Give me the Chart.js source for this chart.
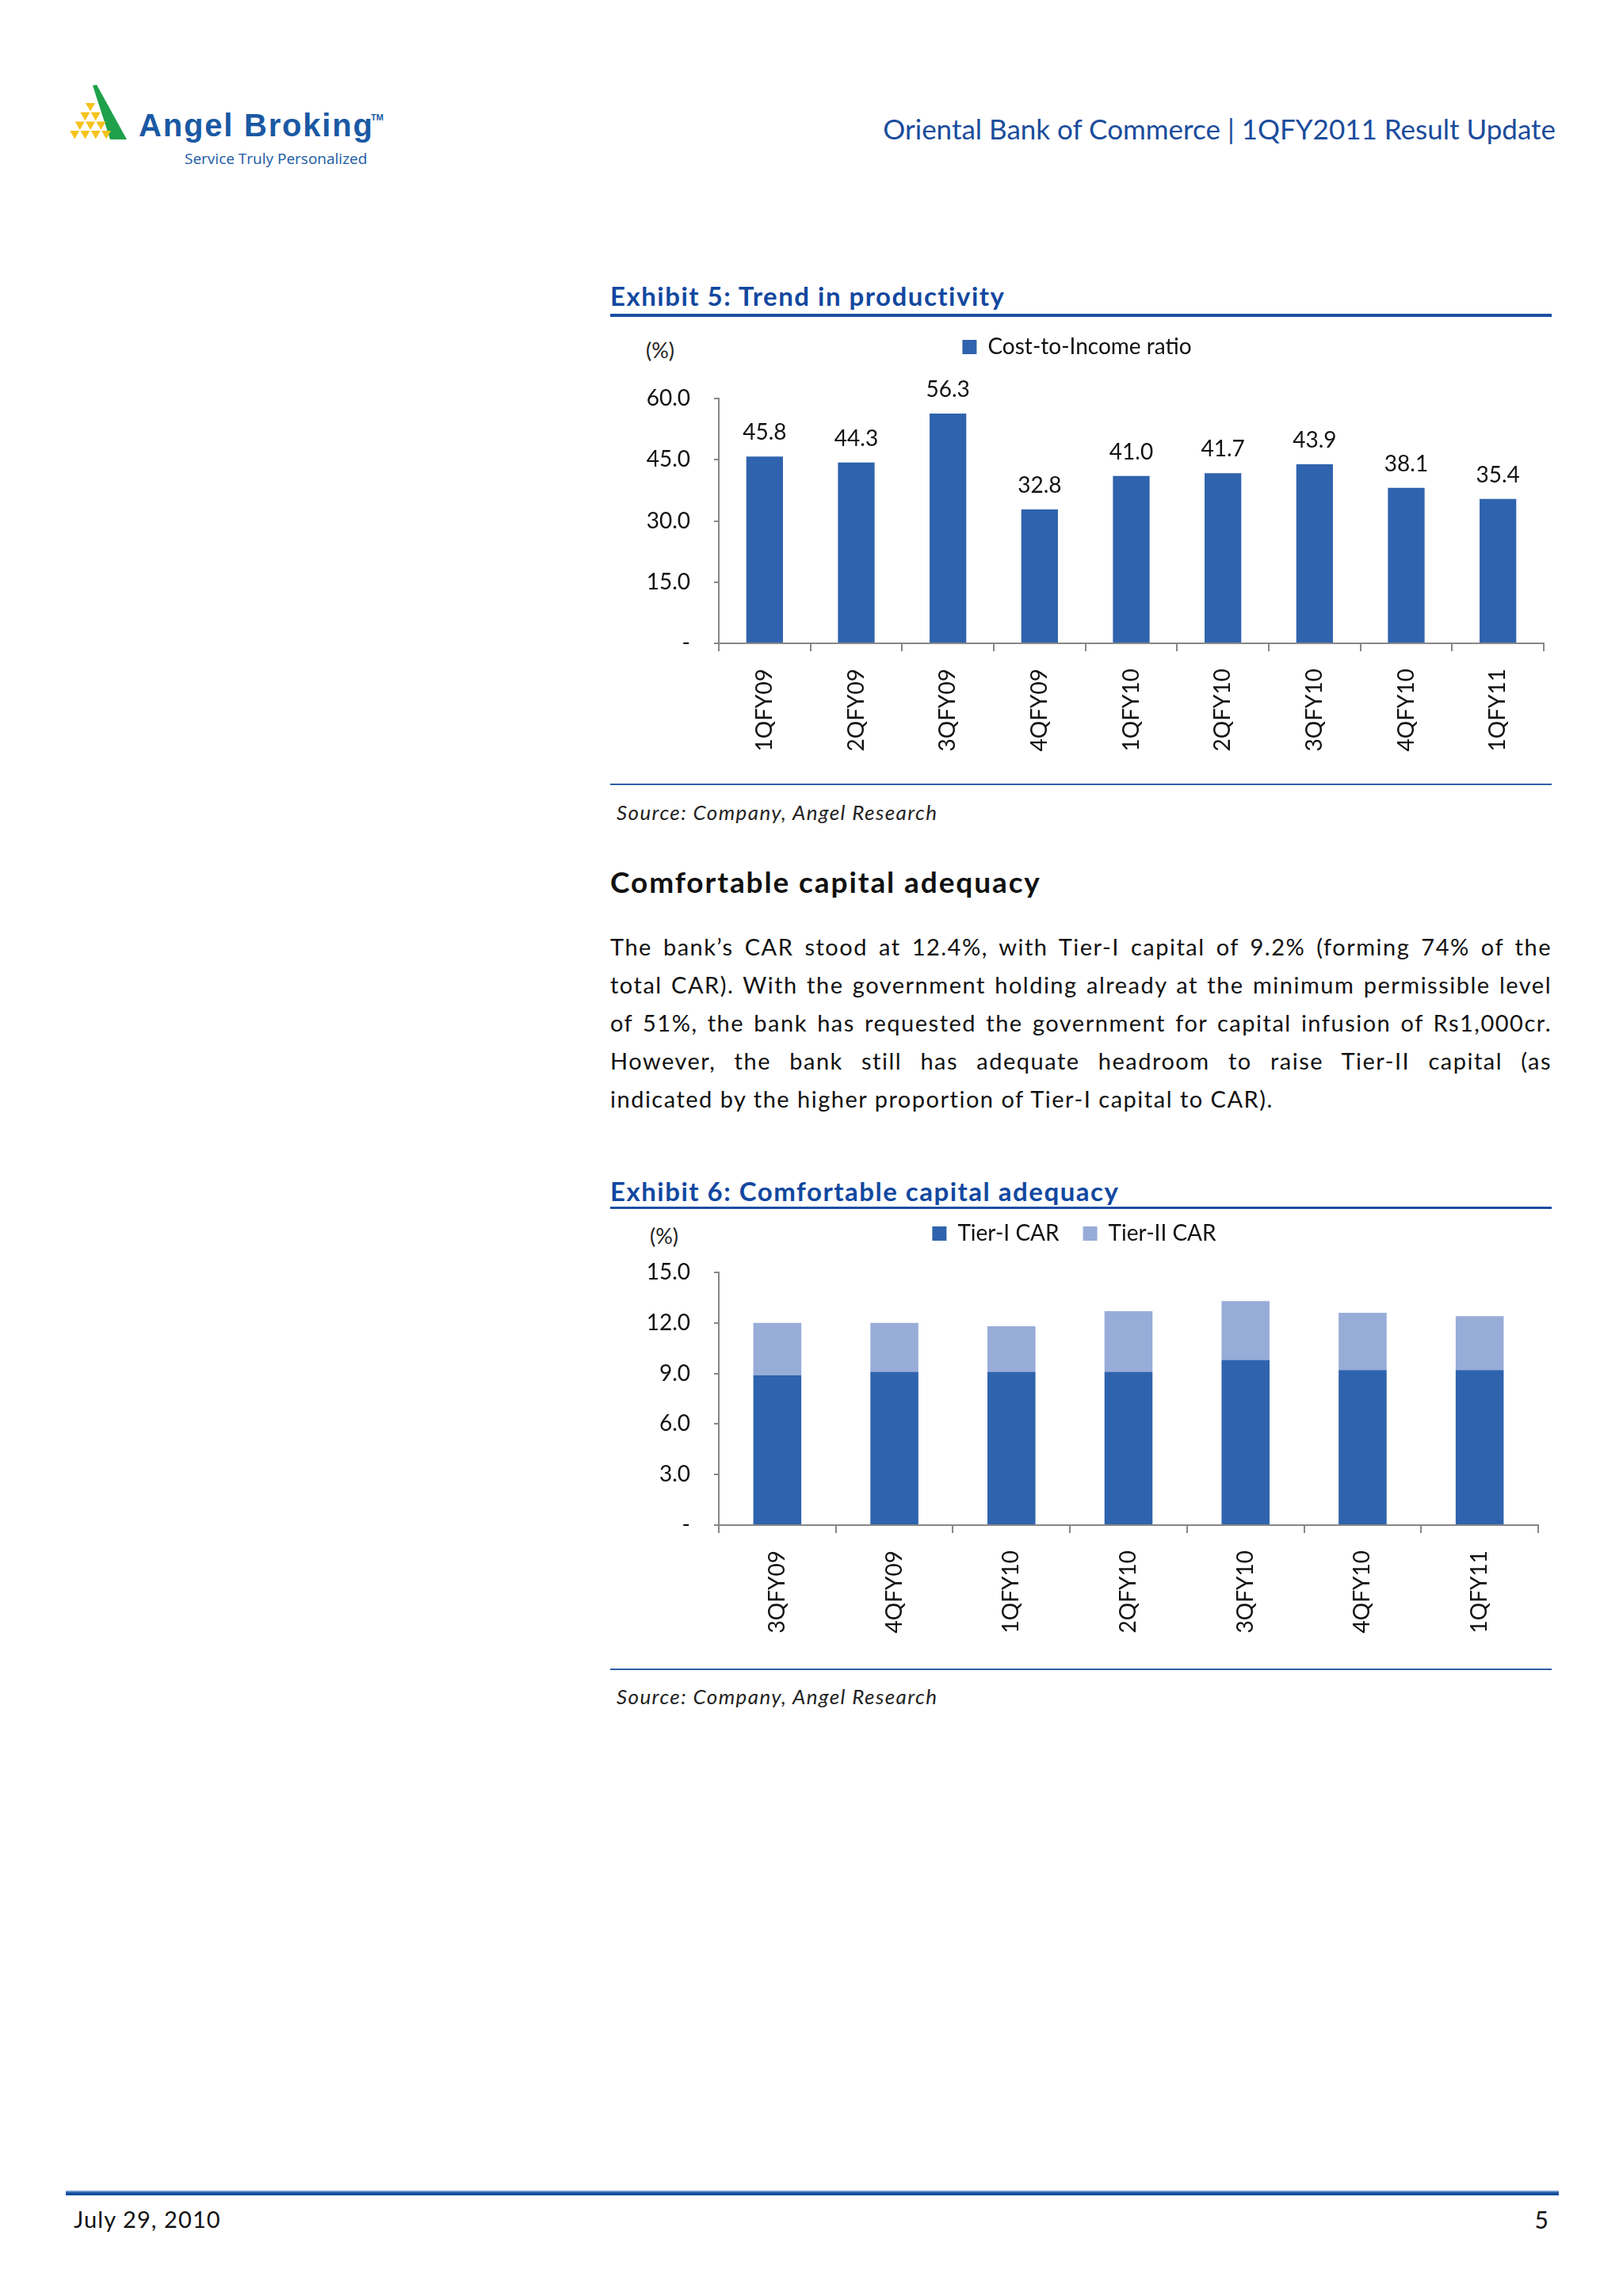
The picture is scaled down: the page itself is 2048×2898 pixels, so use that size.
<!DOCTYPE html>
<html>
<head>
<meta charset="utf-8">
<title>Oriental Bank of Commerce | 1QFY2011 Result Update</title>
<script src="https://cdn.jsdelivr.net/npm/chart.js@4.4.0/dist/chart.umd.min.js"></script>
<style>
html, body { margin: 0; padding: 0; background: #fff; }
body { width: 2048px; height: 2898px; position: relative; overflow: hidden; font-family: Lato, "Open Sans", sans-serif; color: #111; }
.abs { position: absolute; white-space: nowrap; }
.rule { position: absolute; left: 770px; width: 1188px; }
.exhibit { font-weight: bold; font-size: 33px; line-height: 40px; letter-spacing: 1.5px; color: #1248a0; left: 770px; }
.pct { font-size: 27px; line-height: 32px; color: #222; }
.source { font-style: italic; font-size: 26px; line-height: 32px; letter-spacing: 1.4px; color: #222; left: 778px; }
.chartbox { position: absolute; left: 770px; width: 1188px; }
.para div { text-align: justify; text-align-last: justify; width: 1188px; white-space: normal; }
.para div.last { text-align-last: left; }
</style>
</head>
<body>

<!-- logo -->
<svg class="abs" style="left:0;top:0" width="520" height="220" id="logo">
  <polygon points="117,108 122,107 160,176 139,176" fill="#1fa04a"></polygon>
  <text x="175" y="172" font-family="Liberation Sans, Arial, sans-serif" font-weight="bold" font-size="40" letter-spacing="1.8" fill="#1a59a4">Angel Broking</text>
  <text x="468" y="152" font-family="Liberation Sans, Arial, sans-serif" font-weight="bold" font-size="11" fill="#1a59a4">TM</text>
  <text x="233" y="207" font-family="Open Sans, sans-serif" font-size="19" fill="#1a59a4">Service Truly Personalized</text>
</svg>

<div class="abs" style="right:85px;top:142px;font-size:35px;line-height:40px;color:#1a4c9c;">Oriental Bank of Commerce | 1QFY2011 Result Update</div>

<!-- Exhibit 5 -->
<div class="abs exhibit" style="top:353px;">Exhibit 5: Trend in productivity</div>
<div class="rule" style="top:396px;height:4px;background:#1d4ea2;"></div>
<div class="abs pct" style="left:815px;top:426px;">(%)</div>
<div class="chartbox" style="top:394px;height:581px;"><canvas id="productivityChart"></canvas></div>
<div class="rule" style="top:989px;height:2px;background:#2f5ea6;"></div>
<div class="abs source" style="top:1009px;">Source: Company, Angel Research</div>

<div class="abs" style="left:770px;top:1093px;font-size:37px;line-height:40px;letter-spacing:1.9px;font-weight:bold;color:#111;">Comfortable capital adequacy</div>
<div class="abs para" style="left:770px;top:1171px;font-size:29px;line-height:48px;letter-spacing:1.5px;color:#111;">
  <div>The bank’s CAR stood at 12.4%, with Tier-I capital of 9.2% (forming 74% of the</div>
  <div>total CAR). With the government holding already at the minimum permissible level</div>
  <div>of 51%, the bank has requested the government for capital infusion of Rs1,000cr.</div>
  <div>However, the bank still has adequate headroom to raise Tier-II capital (as</div>
  <div class="last">indicated by the higher proportion of Tier-I capital to CAR).</div>
</div>

<!-- Exhibit 6 -->
<div class="abs exhibit" style="top:1483px;">Exhibit 6: Comfortable capital adequacy</div>
<div class="rule" style="top:1523px;height:3px;background:#1d4ea2;"></div>
<div class="abs pct" style="left:820px;top:1544px;">(%)</div>
<div class="chartbox" style="top:1513px;height:572px;"><canvas id="carChart"></canvas></div>
<div class="rule" style="top:2106px;height:2px;background:#2f5ea6;"></div>
<div class="abs source" style="top:2125px;">Source: Company, Angel Research</div>

<!-- footer -->
<div class="abs" style="left:83px;top:2765px;width:1884px;height:6px;background:#1450a0;border-top:2px solid #6f96cc;box-sizing:border-box;"></div>
<div class="abs" style="left:93px;top:2784px;font-size:29px;line-height:34px;letter-spacing:1.1px;color:#111;">July 29, 2010</div>
<div class="abs" style="right:94px;top:2784px;font-size:30px;line-height:34px;color:#111;">5</div>

<script>
// logo triangles
var svg = document.getElementById('logo');
for (var r = 0; r < 4; r++) {
    for (var k = 0; k <= r; k++) {
        var x = 108 - r * 6.6 + k * 13.3;
        var y = 130 + r * 11.7;
        var p = document.createElementNS('http://www.w3.org/2000/svg', 'polygon');
        p.setAttribute('points', x + ',' + y + ' ' + (x + 12) + ',' + y + ' ' + (x + 6) + ',' + (y + 10.5));
        p.setAttribute('fill', '#f5c21b');
        svg.appendChild(p);
    }
}

// Exhibit 5 data
var quarters = ['1QFY09', '2QFY09', '3QFY09', '4QFY09', '1QFY10', '2QFY10', '3QFY10', '4QFY10', '1QFY11'];
var costToIncome = [45.8, 44.3, 56.3, 32.8, 41.0, 41.7, 43.9, 38.1, 35.4];
var productivityTicks = [0, 15, 30, 45, 60];

// Exhibit 6 data
var carQuarters = ['3QFY09', '4QFY09', '1QFY10', '2QFY10', '3QFY10', '4QFY10', '1QFY11'];
var tier1 = [8.9, 9.1, 9.1, 9.1, 9.8, 9.2, 9.2];
var tier2 = [3.1, 2.9, 2.7, 3.6, 3.5, 3.4, 3.2];
var carTicks = [0, 3, 6, 9, 12, 15];

var darkBlue = '#2f63ae';
var lightBlue = '#98acd8';
var axisGrey = '#878787';

Chart.defaults.font.family = 'Lato, "Open Sans", sans-serif';
Chart.defaults.color = '#111';

// value labels above the bars
var valueLabels = {
    id: 'valueLabels',
    afterDatasetsDraw: function (chart) {
        var ctx = chart.ctx;
        var meta = chart.getDatasetMeta(0);
        var values = chart.data.datasets[0].data;
        ctx.save();
        ctx.font = '28px Lato, "Open Sans", sans-serif';
        ctx.fillStyle = '#111';
        ctx.textAlign = 'center';
        ctx.textBaseline = 'middle';
        meta.data.forEach(function (bar, i) {
            ctx.fillText(values[i].toFixed(1), bar.x, bar.y - 30);
        });
        ctx.restore();
    }
};

function tickText(v) {
    return v === 0 ? '-' : v.toFixed(1);
}

function makeOptions(ticks, stacked, spacer, xHeight, padRight) {
    return {
        responsive: true,
        maintainAspectRatio: false,
        animation: false,
        layout: { padding: { top: 0, right: padRight, bottom: 0, left: 0 } },
        plugins: {
            legend: {
                position: 'top',
                labels: { font: { size: 28 }, color: '#111', boxWidth: 18, boxHeight: 18, padding: 30 }
            },
            subtitle: {
                display: true, text: ' ', weight: 500,
                font: { size: 2, lineHeight: 1 },
                padding: { top: 0, bottom: spacer }
            },
            tooltip: { enabled: false }
        },
        scales: {
            x: {
                stacked: stacked,
                grid: { drawOnChartArea: false, drawTicks: true, tickLength: 10, color: axisGrey, lineWidth: 2, offset: true },
                border: { color: axisGrey, width: 2 },
                ticks: { minRotation: 90, maxRotation: 90, padding: 22, font: { size: 28 }, color: '#111' },
                afterFit: function (s) { s.height = xHeight; }
            },
            y: {
                stacked: stacked,
                min: ticks[0],
                max: ticks[ticks.length - 1],
                grid: { drawOnChartArea: false, drawTicks: true, tickLength: 6, color: axisGrey, lineWidth: 2 },
                border: { color: axisGrey, width: 2 },
                ticks: { stepSize: ticks[1] - ticks[0], padding: 30, font: { size: 28 }, color: '#111', callback: tickText },
                afterFit: function (s) { s.width = 137; }
            }
        }
    };
}

new Chart(document.getElementById('productivityChart'), {
    type: 'bar',
    data: {
        labels: quarters,
        datasets: [{
            label: 'Cost-to-Income ratio',
            data: costToIncome,
            backgroundColor: darkBlue,
            barPercentage: 0.4,
            categoryPercentage: 1
        }]
    },
    options: makeOptions(productivityTicks, false, 39, 163, 10),
    plugins: [valueLabels]
});

new Chart(document.getElementById('carChart'), {
    type: 'bar',
    data: {
        labels: carQuarters,
        datasets: [{
            label: 'Tier-I CAR',
            data: tier1,
            backgroundColor: darkBlue,
            barPercentage: 0.41,
            categoryPercentage: 1
        }, {
            label: 'Tier-II CAR',
            data: tier2,
            backgroundColor: lightBlue,
            barPercentage: 0.41,
            categoryPercentage: 1
        }]
    },
    options: makeOptions(carTicks, true, 23, 160, 17)
});
</script>
</body>
</html>
